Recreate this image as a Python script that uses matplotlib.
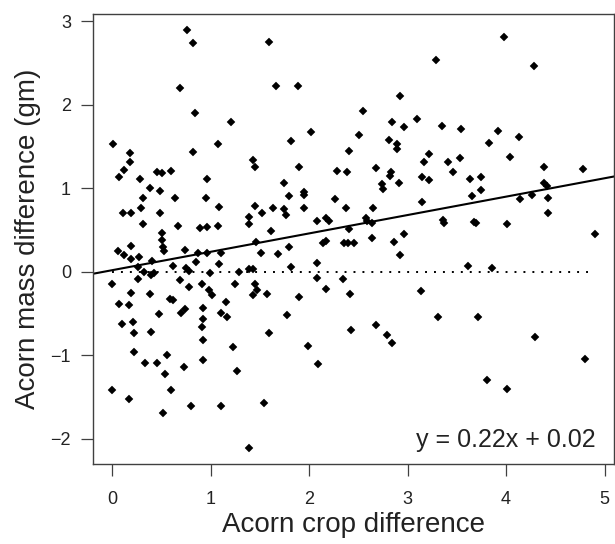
import numpy as np
import matplotlib
matplotlib.use("Agg")
import matplotlib.pyplot as plt

plt.rcParams["font.family"] = ["Liberation Sans", "DejaVu Sans"]

# valores
crop_diff = [
    0.76, 0.82, 1.59, 0.69, 0.84, 1.21, 0.01, 1.07, 0.82, 0.18,
    0.18, 1.43, 1.45, 0.12, 0.45, 0.50, 0.60, 0.07, 0.28, 0.96,
    0.38, 0.48, 0.31, 0.64, 0.95, 1.08, 1.45, 0.29, 0.11, 0.19,
    0.48, 1.39, 1.52, 0.31, 0.67, 0.89, 0.96, 1.07, 1.39, 1.61,
    0.50, 0.50, 0.51, 0.53, 0.19, 0.06, 0.12, 0.19, 0.27, 0.40,
    0.74, 0.87, 0.96, 1.10, 1.46, 1.51, 0.85, 1.08, 0.26, 0.62,
    0.75, 0.78, 0.32, 0.42, 0.39, 0.99, 1.29, 1.39, 1.43, 0.26,
    0.69, 0.00, 0.91, 1.25, 0.78, 1.45, 1.47, 1.43, 0.98, 1.01,
    1.57, 0.19, 0.38, 0.59, 0.62, 0.07, 0.17, 1.16, 0.92, 0.74,
    0.70, 0.47, 1.10, 1.17, 0.92, 0.10, 0.21, 0.91, 0.22, 0.39,
    1.59, 0.92, 1.23, 0.22, 0.56, 0.33, 0.45, 0.92, 0.73, 0.54,
    1.27, 0.00, 0.60, 0.17, 0.80, 1.10, 1.54, 0.51, 1.39, 3.29,
    1.66, 1.89, 2.92, 2.55, 2.84, 3.09, 2.96, 3.35, 2.02, 1.82,
    2.51, 2.81, 2.89, 2.89, 2.40, 3.22, 3.17, 1.90, 2.28, 2.38,
    2.68, 2.83, 2.82, 3.15, 3.22, 1.74, 2.74, 2.75, 2.91, 1.79,
    1.95, 1.95, 2.26, 3.15, 1.63, 1.74, 1.76, 1.95, 2.37, 2.65,
    2.08, 2.17, 2.20, 2.58, 2.59, 2.64, 2.40, 2.64, 2.96, 2.86,
    2.14, 2.17, 2.35, 2.39, 2.46, 1.79, 1.68, 2.92, 2.08, 1.82,
    2.08, 2.34, 2.17, 1.90, 2.41, 3.14, 1.77, 3.31, 2.68, 2.42,
    2.79, 2.84, 1.99, 2.09, 3.98, 4.28, 3.54, 3.92, 4.13, 3.83,
    3.41, 3.53, 4.04, 3.46, 4.38, 4.78, 3.63, 3.74, 3.74, 3.65,
    4.14, 4.26, 4.39, 4.42, 4.43, 4.43, 3.36, 3.37, 3.67, 3.69,
    4.01, 4.90, 3.61, 3.86, 3.71, 4.29, 3.81, 4.01, 4.80,
]
mass_diff = [
    2.89, 2.74, 2.75, 2.20, 1.90, 1.79, 1.53, 1.53, 1.43, 1.42,
    1.32, 1.34, 1.26, 1.22, 1.19, 1.18, 1.21, 1.14, 1.11, 1.11,
    1.00, 0.97, 0.88, 0.88, 0.88, 0.78, 0.79, 0.76, 0.70, 0.71,
    0.71, 0.66, 0.70, 0.57, 0.55, 0.52, 0.54, 0.55, 0.57, 0.49,
    0.47, 0.38, 0.30, 0.25, 0.31, 0.25, 0.20, 0.15, 0.18, 0.13,
    0.26, 0.22, 0.22, 0.23, 0.36, 0.23, 0.12, 0.09, 0.06, 0.07,
    0.04, 0.01, 0.00, -0.01, -0.04, -0.01, 0.00, 0.03, 0.03, -0.09,
    -0.10, -0.15, -0.14, -0.14, -0.18, -0.14, -0.22, -0.28, -0.22, -0.28,
    -0.26, -0.25, -0.26, -0.32, -0.34, -0.38, -0.40, -0.36, -0.43, -0.44,
    -0.49, -0.50, -0.49, -0.54, -0.56, -0.62, -0.60, -0.66, -0.73, -0.72,
    -0.73, -0.81, -0.90, -0.96, -0.99, -1.09, -1.09, -1.06, -1.14, -1.22,
    -1.19, -1.41, -1.41, -1.52, -1.61, -1.60, -1.57, -1.69, -2.11, 2.54,
    2.22, 2.22, 2.11, 1.92, 1.79, 1.83, 1.73, 1.75, 1.67, 1.56,
    1.64, 1.58, 1.53, 1.47, 1.45, 1.41, 1.32, 1.26, 1.21, 1.19,
    1.24, 1.20, 1.15, 1.14, 1.10, 1.06, 1.05, 0.99, 1.06, 0.91,
    0.96, 0.92, 0.87, 0.84, 0.77, 0.75, 0.68, 0.77, 0.77, 0.76,
    0.61, 0.65, 0.61, 0.64, 0.61, 0.58, 0.51, 0.41, 0.45, 0.36,
    0.35, 0.37, 0.34, 0.34, 0.35, 0.30, 0.21, 0.20, 0.10, 0.06,
    -0.07, -0.08, -0.21, -0.30, -0.26, -0.23, -0.52, -0.54, -0.64, -0.70,
    -0.76, -0.85, -0.89, -1.10, 2.81, 2.46, 1.71, 1.68, 1.61, 1.54,
    1.31, 1.36, 1.38, 1.19, 1.26, 1.23, 1.11, 1.13, 0.98, 0.91,
    0.87, 0.92, 1.06, 1.03, 0.88, 0.71, 0.62, 0.58, 0.60, 0.59,
    0.57, 0.45, 0.07, 0.05, -0.54, -0.78, -1.29, -1.40, -1.04,
]
pendiente = 0.22
intercepto = 0.02

x = np.array(crop_diff)
y = np.array(mass_diff)

fig = plt.figure(figsize=(6.15, 5.44), dpi=100)
ax = fig.add_axes([93 / 615, 1 - 464 / 544, 521 / 615, 450 / 544])

ax.plot(x, y, linestyle="none", marker="D", ms=3.9, color="black", mec="black", mew=0.3)
ax.axline((0, intercepto), slope=pendiente, color="black", lw=1.5)
ax.hlines(0, x.min(), x.max(), colors="black", lw=1.4, linestyles=(0, (1, 3.6)))

ax.set_xlim(-0.196, 5.096)
ax.set_ylim(-2.30, 3.086)
ax.set_xticks([0, 1, 2, 3, 4, 5])
ax.set_yticks([-2, -1, 0, 1, 2, 3])
ax.set_yticklabels(["\u22122", "\u22121", "0", "1", "2", "3"])

for s in ax.spines.values():
    s.set_color("#404040")
    s.set_linewidth(1.0)

ax.tick_params(axis="both", direction="out", length=8.3, width=0.9, color="#404040",
               labelsize=13, labelcolor="#222222")
ax.tick_params(axis="x", pad=11)
ax.tick_params(axis="y", pad=7.5)

ax.set_xlabel("Acorn crop difference", fontsize=20, color="#222222", va="center")
ax.xaxis.set_label_coords(0.5, (464 - 525) / 450)
ax.set_ylabel("Acorn mass difference (gm)", fontsize=20, color="#222222", va="center")
ax.yaxis.set_label_coords((28 - 93) / 521, 0.5)

ax.text((596 - 93) / 521, (464 - 447) / 450, f"y = {pendiente}x + {intercepto}",
        transform=ax.transAxes, ha="right", va="baseline", fontsize=18, color="#222222")

fig.savefig("out.png", dpi=100)
